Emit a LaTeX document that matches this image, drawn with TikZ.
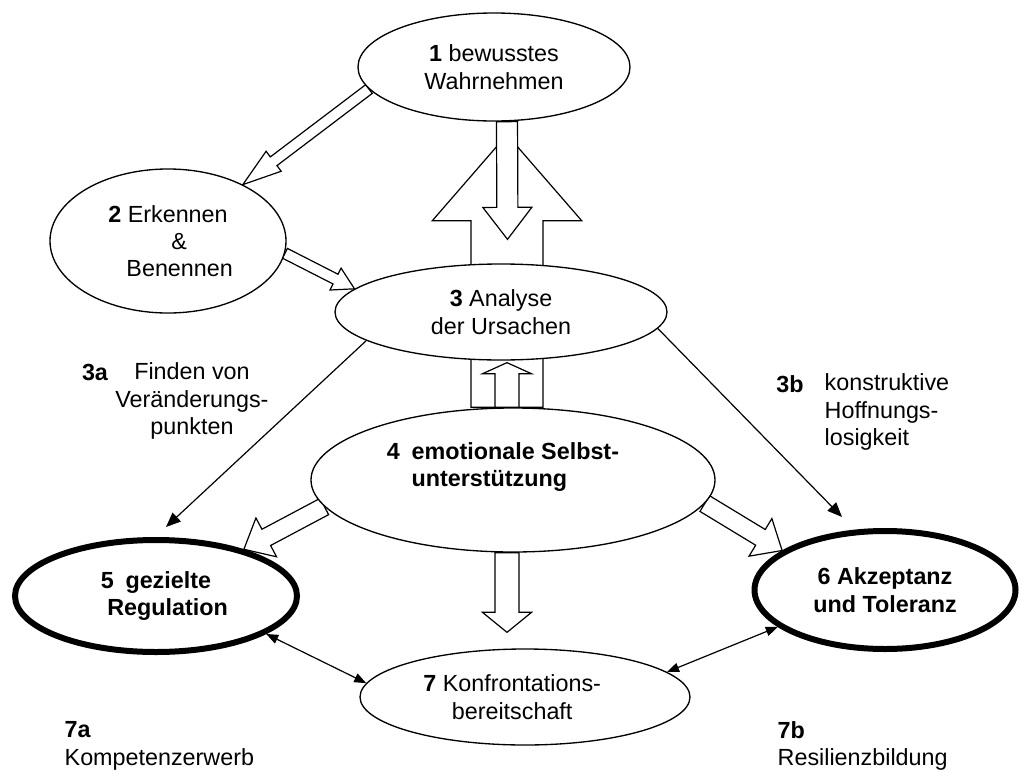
\documentclass[tikz,border=0pt]{standalone}
\usepackage{fontspec}
\setmainfont{Liberation Sans}
\usetikzlibrary{arrows.meta, calc, shapes.geometric, backgrounds}

% hollow block arrow: from, to, half shaft, half head, head length
\newcommand{\hollowarrow}[5]{%
  \coordinate (ha) at (#1);
  \coordinate (hb) at (#2);
  \draw[block]
    ($(ha)!#3!90:(hb)$) -- ($(hb)!#5!(ha)!#3!90:(hb)$)
    -- ($(hb)!#5!(ha)!#4!90:(hb)$) -- (hb)
    -- ($(hb)!#5!(ha)!#4!-90:(hb)$) -- ($(hb)!#5!(ha)!#3!-90:(hb)$)
    -- ($(ha)!#3!-90:(hb)$) -- cycle;}

\begin{document}
\begin{tikzpicture}[
  x=0.75pt, y=-0.75pt,
  font=\fontsize{17.5}{20.5}\selectfont,
  stage/.style = {ellipse, draw, line width=1pt, fill=white, inner sep=0pt, align=center},
  goal/.style = {stage, line width=4.5pt, font=\fontsize{17.5}{20.5}\selectfont\bfseries},
  block/.style = {draw, fill=white, line width=0.9pt, line join=miter},
  link/.style = {line width=0.9pt, -{Triangle[length=11pt, width=9pt]}},
  both/.style = {line width=0.9pt, {Triangle[length=9pt, width=7pt]}-{Triangle[length=9pt, width=7pt]}},
  note/.style = {align=left},
  tag/.style = {anchor=base, font=\fontsize{17.5}{20.5}\selectfont\bfseries}
]
  \useasboundingbox (0,0) rectangle (1021,771);

  % stages
  \node[stage, minimum width=204pt, minimum height=81pt] (e1) at (494,67) {\textbf{1} bewusstes\\Wahrnehmen};
  \node[stage, minimum width=177pt, minimum height=108pt] (e2) at (168,241)
    {\textbf{2} Erkennen\\\hspace*{0.95em}\&\\\hspace*{1em}Benennen};
  \node[stage, minimum width=249pt, minimum height=72pt] (e3) at (501,312) {\textbf{3} Analyse\\der Ursachen};
  \node[stage, minimum width=303pt, minimum height=108pt] (e4) at (513,480) {};
  \node[note, font=\fontsize{17.5}{20.5}\selectfont\bfseries] (t4) at (503,467)
    {4\hspace{0.5em}emotionale Selbst-\\\hphantom{4\hspace{0.5em}}unterstützung};
  \node[goal, minimum width=211.5pt, minimum height=84pt] (e5) at (156,596)
    {5\enspace gezielte\\\hspace*{1em}Regulation};
  \node[goal, minimum width=195.75pt, minimum height=88.5pt] (e6) at (885,590) {6 Akzeptanz\\und Toleranz};
  \node[stage, minimum width=247.5pt, minimum height=72pt] (e7) at (525,697)
    {\textbf{7} Konfrontations-\hspace*{1.1em}\\bereitschaft\hspace*{1.1em}};

  % block arrows behind the stages
  \begin{pgfonlayer}{background}
    \hollowarrow{[shift={(-6,0)}]e4.north}{[shift={(13,13)}]e1.south}{27pt}{56pt}{64.5pt}
    \hollowarrow{[shift={(13,0)}]e1.south}{[shift={(6.5,-24)}]e3.north}{7.9pt}{18.4pt}{24pt}
    \hollowarrow{[shift={(-6,0)}]e4.north}{[shift={(6,2)}]e3.south}{9pt}{18.4pt}{8.3pt}
    \hollowarrow{[shift={(-6,0)}]e4.south}{[shift={(-18,-16)}]e7.north}{9pt}{18.4pt}{15pt}
    \hollowarrow{e1.190}{e2.37}{4.1pt}{9.4pt}{29pt}
    \hollowarrow{e2.-6}{e3.171}{4.1pt}{9.2pt}{16pt}
    \hollowarrow{e4.188}{e5.28}{6.9pt}{16.5pt}{19pt}
    \hollowarrow{e4.-7}{e6.159}{6.9pt}{16.5pt}{19pt}
  \end{pgfonlayer}

  % thin arrows
  \draw[link] (e3.192) -- ([shift={(10,-10)}]e5.north);
  \draw[link] (e3.-6) -- ([shift={(-43,-11)}]e6.north);
  \draw[both] (e5.-19) -- (e7.175);
  \draw[both] (e6.199) -- (e7.10);

  % side notes
  \node[align=center] (t3a) at (192,401) {Finden von\\Veränderungs-\\punkten};
  \node[tag] (l3a) at (95,380) {3a};
  \node[note, anchor=west] (t3b) at (820,412) {konstruktive\\Hoffnungs-\\losigkeit};
  \node[tag] (l3b) at (790,392) {3b};
  \node[note, anchor=west] (t7a) at (60,746) {\textbf{7a}\\Kompetenzerwerb};
  \node[note, anchor=west] (t7b) at (773,746) {\textbf{7b}\\Resilienzbildung};
\end{tikzpicture}
\end{document}
